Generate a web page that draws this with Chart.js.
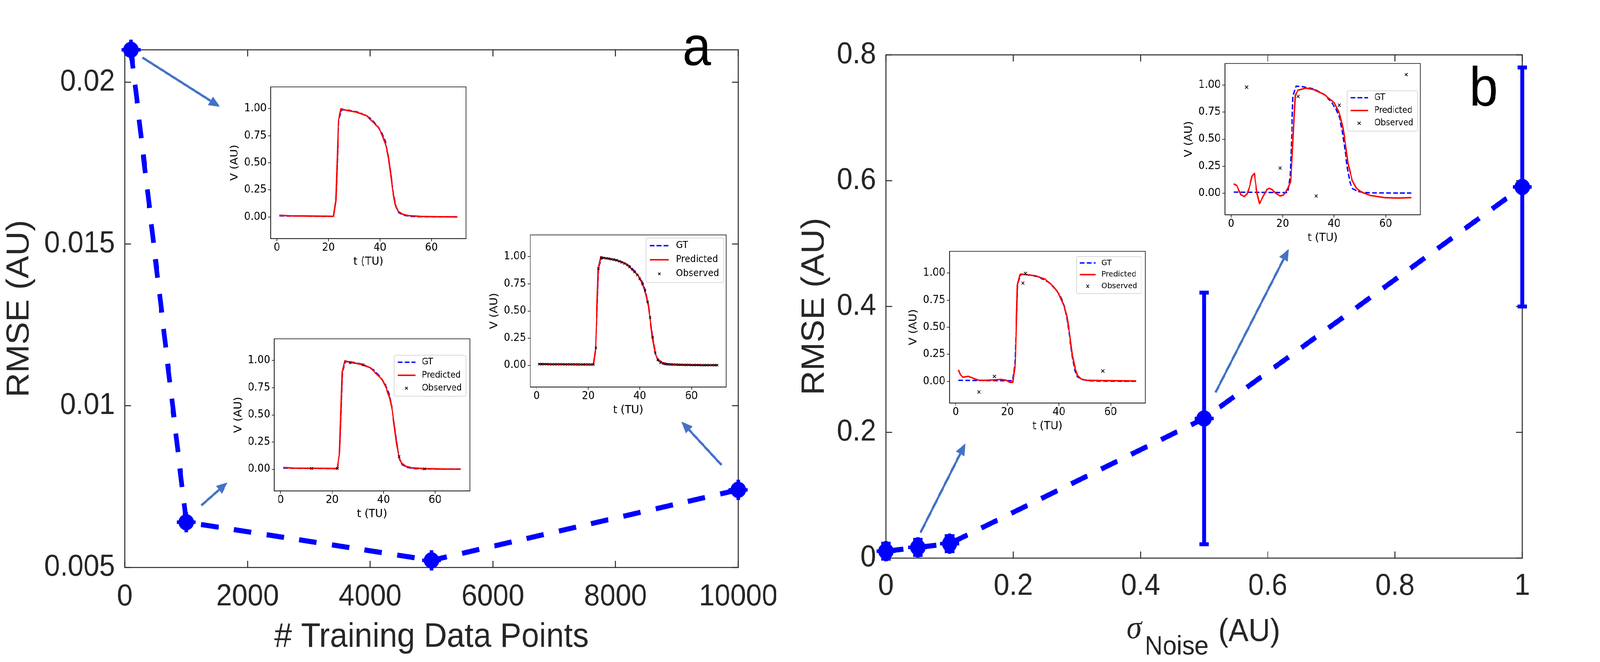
<!DOCTYPE html>
<html>
<head>
<meta charset="utf-8">
<script src="https://cdn.jsdelivr.net/npm/chart.js@4.4.1/dist/chart.umd.min.js"></script>
<style>
  html, body { margin: 0; background: #fff; overflow: hidden; }
  #wrap { position: relative; width: 4363px; height: 1695px; overflow: hidden; }
  #fig { position: absolute; left: 0; top: 0; width: 4363px; height: 1695px; background: #fff; overflow: hidden; transform-origin: 0 0; }
  canvas { position: absolute; }
</style>
</head>
<body>
<div id="wrap">
<div id="fig">
  <canvas id="mainA" width="2150" height="1695" style="left:0px;top:0px"></canvas>
  <canvas id="mainB" width="2213" height="1695" style="left:2150px;top:0px"></canvas>
</div>
</div>
<script>
// ---- panel a : RMSE vs number of training points
const trainPoints = [100, 1000, 5000, 10000];
const rmseTrain = [0.021, 0.0064, 0.00522, 0.0074];
const xTicksA = [0, 2000, 4000, 6000, 8000, 10000];
const xLabelsA = ['0', '2000', '4000', '6000', '8000', '10000'];
const yTicksA = [0.005, 0.01, 0.015, 0.02];
const yLabelsA = ['0.005', '0.01', '0.015', '0.02'];

// ---- panel b : RMSE vs noise level
const noiseLevels = [0, 0.05, 0.1, 0.5, 1];
const rmseNoise = [0.011, 0.017, 0.023, 0.222, 0.59];
const rmseNoiseErr = [0.012, 0.012, 0.012, 0.2, 0.19];
const xTicksB = [0, 0.2, 0.4, 0.6, 0.8, 1];
const xLabelsB = ['0', '0.2', '0.4', '0.6', '0.8', '1'];
const yTicksB = [0, 0.2, 0.4, 0.6, 0.8];
const yLabelsB = ['0', '0.2', '0.4', '0.6', '0.8'];

// ---- insets (t in TU, V in AU)
const insetTTicks = [0, 20, 40, 60];
const insetTLabels = ['0', '20', '40', '60'];
const insetVTicks = [0, 0.25, 0.5, 0.75, 1];
const insetVLabels = ['0.00', '0.25', '0.50', '0.75', '1.00'];

const gtT = [1, 5, 10, 15, 20, 22, 22.9, 23.4, 24, 25.2, 27.8, 32, 36.1, 38.7, 40.8, 42.1, 43.1, 44.1, 45.2, 46.2, 47.2, 49, 51.6, 55, 60, 65, 70];
const gtV = [0.01, 0.009, 0.008, 0.007, 0.006, 0.006, 0.158, 0.478, 0.9, 0.99, 0.985, 0.965, 0.914, 0.85, 0.773, 0.696, 0.58, 0.414, 0.222, 0.094, 0.042, 0.017, 0.006, 0.003, 0.002, 0.001, 0.001];

const predLowT = [1, 5, 10, 15, 20, 22, 22.9, 23.9, 24.9, 27.3, 30.7, 34.8, 37.5, 39.5, 40.9, 42.3, 43.3, 44, 45, 46, 47, 48.7, 51.1, 55.9, 60, 65, 70];
const predLowV = [0.016, 0.01, 0.009, 0.008, 0.007, 0.006, 0.155, 0.894, 0.998, 0.982, 0.968, 0.935, 0.871, 0.824, 0.754, 0.66, 0.554, 0.425, 0.237, 0.108, 0.055, 0.026, 0.012, 0.005, 0.003, 0.001, 0];

const obs1000T = [12, 22, 27, 32, 46, 56];
const obs1000V = [0.007, 0.007, 0.98, 0.961, 0.117, 0.003];

const obs10000T = [1, 2, 3, 4, 5, 6, 7, 8, 9, 10, 11, 12, 13, 14, 15, 16, 17, 18, 19, 20, 21, 22, 23, 24, 25, 26, 27, 28, 29, 30, 31, 32, 33, 34, 35,
  36, 37, 38, 39, 40, 41, 42, 43, 44, 45, 46, 47, 48, 49, 50, 51, 52, 53, 54, 55, 56, 57, 58, 59, 60, 61, 62, 63, 64, 65, 66, 67, 68, 69, 70];
const obs10000V = [0.011, 0.011, 0.011, 0.011, 0.01, 0.01, 0.01, 0.01, 0.01, 0.01, 0.009, 0.009, 0.009, 0.009, 0.009, 0.008, 0.008, 0.008, 0.008, 0.008, 0.008, 0.008,
  0.16, 0.89, 0.99, 0.988, 0.985, 0.981, 0.977, 0.972, 0.966, 0.958, 0.948, 0.936, 0.922, 0.905, 0.884, 0.86, 0.83, 0.796, 0.749, 0.69, 0.584, 0.44, 0.26,
  0.117, 0.051, 0.024, 0.015, 0.011, 0.009, 0.008, 0.007, 0.006, 0.005,
  0.005, 0.004, 0.004, 0.004, 0.003, 0.003, 0.003, 0.003, 0.002, 0.002, 0.002, 0.002, 0.002, 0.002, 0.002];

const predN005T = [1, 1.8, 2.8, 4.9, 6.7, 9, 11.9, 15, 17.6, 19.6, 20.9, 22.1, 22.7, 23.1, 23.9, 24.9, 26.3, 31, 34.6, 37.7, 39.8, 42.1, 43.1, 44.1, 45.2, 46.2, 47.2, 48.5, 50.6, 56.8, 70];
const predN005V = [0.106, 0.061, 0.038, 0.047, 0.029, 0.01, 0.01, 0.014, 0.018, 0.01, -0.009, -0.009, 0.1, 0.163, 0.89, 0.987, 0.987, 0.974, 0.943, 0.879, 0.815, 0.687, 0.598, 0.444, 0.24, 0.125, 0.055, 0.023, 0.01, 0.008, 0.004];
const obsN005T = [9, 15, 26, 27, 57];
const obsN005V = [-0.098, 0.046, 0.907, 0.996, 0.096];

const predN05T = [1, 2.2, 3.8, 5.1, 6.1, 7.1, 8.1, 9, 10, 11, 12.3, 13.9, 14.9, 15.9, 17.5, 19, 20.1, 21.1, 22.1, 23.2, 23.7, 24.5, 24.9, 26, 28.9, 32, 36.1, 40, 42.1, 43.4, 44.4, 45.4, 47, 48.5, 50.6, 54.2, 59.4, 64.6, 70];
const predN05V = [0.087, 0.07, -0.015, -0.031, -0.009, 0.055, 0.158, 0.183, 0.004, -0.096, -0.035, 0.036, 0.045, 0.032, -0.003, -0.026, -0.019, 0.006, 0.049, 0.119, 0.35, 0.735, 0.908, 0.953, 0.972, 0.959, 0.914, 0.837, 0.735, 0.606, 0.453, 0.273, 0.119, 0.049, 0.01, -0.022, -0.041, -0.045, -0.041];
const obsN05T = [6, 19, 26, 33, 42, 68];
const obsN05V = [0.981, 0.232, 0.895, -0.026, 0.814, 1.097];

// arrows from a point to its inset, in data units of the big axes [x0, y0, x1, y1]
const arrowsA = [[288, 0.02076, 1550, 0.01924], [1248, 0.00692, 1673, 0.00763], [9727, 0.00817, 9075, 0.00951]];
const arrowsB = [[0.0542, 0.0404, 0.1248, 0.1822], [0.5179, 0.2633, 0.6331, 0.4914]];

const BLUE = '#0000ff';
const ARROW = '#4472c4';
const AXIS = '#262626';
const SANS = '"Liberation Sans", Arial, Helvetica, sans-serif';
const DJV = '"DejaVu Sans", sans-serif';

// the figure is laid out at 4363x1695; the window can be smaller (4096 wide), so fit it to the viewport
const fig = document.getElementById('fig');
const wrap = document.getElementById('wrap');
const sx = window.innerWidth / 4363, sy = window.innerHeight / 1695;
if (Math.abs(sx - 1) > 0.002 || Math.abs(sy - 1) > 0.002) {
  fig.style.transform = 'scale(' + sx + ',' + sy + ')';
  wrap.style.width = window.innerWidth + 'px';
  wrap.style.height = window.innerHeight + 'px';
}

const pts = (xs, ys) => xs.map((x, i) => ({ x: x, y: ys[i] }));

// box + inward ticks, matlab style
const frameTicks = {
  id: 'frameTicks',
  beforeDatasetsDraw(chart) {
    const { ctx, chartArea: a, scales: { x, y } } = chart;
    const L = 17;
    ctx.save();
    ctx.strokeStyle = AXIS;
    ctx.lineWidth = 2.5;
    ctx.strokeRect(a.left, a.top, a.right - a.left, a.bottom - a.top);
    ctx.beginPath();
    x.ticks.forEach(t => {
      const px = x.getPixelForValue(t.value);
      ctx.moveTo(px, a.bottom); ctx.lineTo(px, a.bottom - L);
      ctx.moveTo(px, a.top); ctx.lineTo(px, a.top + L);
    });
    y.ticks.forEach(t => {
      const py = y.getPixelForValue(t.value);
      ctx.moveTo(a.left, py); ctx.lineTo(a.left + L, py);
      ctx.moveTo(a.right, py); ctx.lineTo(a.right - L, py);
    });
    ctx.stroke();
    ctx.restore();
  }
};

function arrowPlugin(list) {
  return {
    id: 'arrows',
    afterDatasetsDraw(chart) {
      const { ctx, scales: { x, y } } = chart;
      ctx.save();
      ctx.strokeStyle = ARROW;
      ctx.fillStyle = ARROW;
      ctx.lineWidth = 6;
      list.forEach(([x0, y0, x1, y1]) => {
        const ax = x.getPixelForValue(x0), ay = y.getPixelForValue(y0);
        const bx = x.getPixelForValue(x1), by = y.getPixelForValue(y1);
        const ang = Math.atan2(by - ay, bx - ax), hl = 30, hw = 13;
        const ex = bx - hl * Math.cos(ang), ey = by - hl * Math.sin(ang);
        ctx.beginPath(); ctx.moveTo(ax, ay); ctx.lineTo(ex, ey); ctx.stroke();
        ctx.beginPath();
        ctx.moveTo(bx, by);
        ctx.lineTo(ex - hw * Math.sin(ang), ey + hw * Math.cos(ang));
        ctx.lineTo(ex + hw * Math.sin(ang), ey - hw * Math.cos(ang));
        ctx.closePath();
        ctx.fill();
      });
      ctx.restore();
    }
  };
}

function panelLabel(text, cx, base) {
  return {
    id: 'panelLabel',
    afterDraw(chart) {
      const ctx = chart.ctx;
      ctx.save();
      ctx.font = '141px ' + SANS;
      ctx.fillStyle = '#000';
      ctx.textAlign = 'center';
      ctx.textBaseline = 'alphabetic';
      ctx.fillText(text, cx, base);
      ctx.restore();
    }
  };
}

const errorBars = {
  id: 'errorBars',
  beforeDatasetsDraw(chart) {
    const { ctx, scales: { x, y } } = chart;
    ctx.save();
    ctx.strokeStyle = BLUE;
    ctx.lineWidth = 10;
    noiseLevels.forEach((v, i) => {
      const px = x.getPixelForValue(v);
      const top = y.getPixelForValue(rmseNoise[i] + rmseNoiseErr[i]);
      const bot = y.getPixelForValue(rmseNoise[i] - rmseNoiseErr[i]);
      ctx.beginPath();
      ctx.moveTo(px, top); ctx.lineTo(px, bot);
      ctx.moveTo(px - 13, top); ctx.lineTo(px + 13, top);
      ctx.moveTo(px - 13, bot); ctx.lineTo(px + 13, bot);
      ctx.stroke();
    });
    ctx.restore();
  }
};

const noiseTitle = {
  id: 'noiseTitle',
  afterDraw(chart) {
    const { ctx, chartArea: a } = chart;
    const fSig = 'italic 84px "Liberation Serif", serif';
    const fSub = '68px ' + SANS;
    const fMain = '82px ' + SANS;
    ctx.save();
    ctx.fillStyle = AXIS;
    ctx.textAlign = 'left';
    ctx.textBaseline = 'alphabetic';
    ctx.font = fSig; const wS = ctx.measureText('σ').width;
    ctx.font = fSub; const wN = ctx.measureText('Noise').width;
    ctx.font = fMain; const wA = ctx.measureText('(AU)').width;
    let x = (a.left + a.right) / 2 - (wS + 8 + wN + 27 + wA) / 2 - 2;
    ctx.font = fSig; ctx.fillText('σ', x, a.bottom + 205); x += wS + 8;
    ctx.font = fSub; ctx.fillText('Noise', x, a.bottom + 247); x += wN + 27;
    ctx.font = fMain; ctx.fillText('(AU)', x, a.bottom + 212);
    ctx.restore();
  }
};

function mainChart(id, xs, ys, o) {
  const line = pts(xs, ys);
  return new Chart(document.getElementById(id), {
    type: 'line',
    data: {
      datasets: [
        { data: line, borderColor: BLUE, borderWidth: 13, borderDash: [48, 42], borderCapStyle: 'butt',
          pointStyle: 'circle', pointRadius: 21, pointBackgroundColor: BLUE, pointBorderWidth: 0, clip: false },
        { data: line, showLine: false, pointStyle: 'cross', pointRadius: 26, pointBorderColor: BLUE,
          pointBorderWidth: 9, clip: false }
      ]
    },
    options: {
      responsive: false, animation: false, devicePixelRatio: 1, events: [],
      layout: { padding: { top: o.top, right: o.right, left: 0, bottom: 0 } },
      plugins: { legend: { display: false }, tooltip: { enabled: false } },
      scales: {
        x: {
          type: 'linear', min: o.xMin, max: o.xMax,
          afterFit: s => { s.height = o.xh; },
          afterBuildTicks: s => { s.ticks = o.xTicks.map(v => ({ value: v })); },
          grid: { display: false, drawTicks: false }, border: { display: false },
          ticks: { autoSkip: false, maxRotation: 0, padding: o.xPad, color: AXIS, font: { family: SANS, size: 77 },
                   callback: (v, i) => o.xLabels[i] },
          title: { display: !!o.xTitle, text: o.xTitle, color: AXIS, font: { family: SANS, size: 87 },
                   padding: { top: 0, bottom: 11 } }
        },
        y: {
          type: 'linear', min: o.yMin, max: o.yMax,
          afterFit: s => { s.width = o.yw; },
          afterBuildTicks: s => { s.ticks = o.yTicks.map(v => ({ value: v })); },
          grid: { display: false, drawTicks: false }, border: { display: false },
          ticks: { autoSkip: false, padding: 27, color: AXIS, font: { family: SANS, size: 77 },
                   callback: (v, i) => o.yLabels[i] },
          title: { display: true, text: 'RMSE (AU)', color: AXIS, font: { family: SANS, size: 87 },
                   padding: { top: o.yTitlePad, bottom: 0 } }
        }
      }
    },
    plugins: o.plugins
  });
}

mainChart('mainA', trainPoints, rmseTrain, {
  top: 127.6, right: 123, xh: 242, yw: 340.5, xPad: 30,
  xMin: 0, xMax: 10000, yMin: 0.005, yMax: 0.021,
  xTicks: xTicksA, xLabels: xLabelsA, yTicks: yTicksA, yLabels: yLabelsA,
  xTitle: '# Training Data Points', yTitlePad: 2,
  plugins: [frameTicks, arrowPlugin(arrowsA), panelLabel('a', 1900, 167)]
});

mainChart('mainB', noiseLevels, rmseNoise, {
  top: 140.5, right: 212, xh: 266, yw: 266, xPad: 27,
  xMin: 0, xMax: 1, yMin: 0, yMax: 0.8,
  xTicks: xTicksB, xLabels: xLabelsB, yTicks: yTicksB, yLabels: yLabelsB,
  xTitle: '', yTitlePad: 20,
  plugins: [frameTicks, errorBars, arrowPlugin(arrowsB), noiseTitle, panelLabel('b', 1896, 270)]
});

// ---- insets
function roundRectPath(ctx, x, y, w, h, r) {
  ctx.beginPath();
  ctx.moveTo(x + r, y);
  ctx.arcTo(x + w, y, x + w, y + h, r);
  ctx.arcTo(x + w, y + h, x, y + h, r);
  ctx.arcTo(x, y + h, x, y, r);
  ctx.arcTo(x, y, x + w, y, r);
  ctx.closePath();
}

function insetPlugin(leg) {
  return {
    id: 'insetFrame',
    beforeDraw(chart) {
      const { ctx, chartArea: a } = chart;
      ctx.save();
      ctx.fillStyle = '#fff';
      ctx.fillRect(a.left, a.top, a.right - a.left, a.bottom - a.top);
      ctx.restore();
    },
    afterDatasetsDraw(chart) {
      const { ctx, chartArea: a } = chart;
      ctx.save();
      ctx.strokeStyle = '#000';
      ctx.lineWidth = 1.5;
      ctx.strokeRect(a.left, a.top, a.right - a.left, a.bottom - a.top);
      if (leg) {
        const fs = leg.fs, w = 8.67 * fs, h = 4.65 * fs;
        const x0 = a.right - leg.dx - w, y0 = a.top + leg.dy;
        roundRectPath(ctx, x0, y0, w, h, 0.2 * fs);
        ctx.fillStyle = 'rgba(255,255,255,0.8)';
        ctx.fill();
        ctx.strokeStyle = '#cccccc';
        ctx.lineWidth = 1.5;
        ctx.stroke();
        chart.data.datasets.forEach((ds, i) => {
          const cy = y0 + 0.8 * fs + i * 1.47 * fs;
          if (ds.showLine === false) {
            const cx = x0 + 1.48 * fs, hs = ds.pointRadius * 0.707;
            ctx.strokeStyle = ds.pointBorderColor;
            ctx.lineWidth = ds.pointBorderWidth;
            ctx.setLineDash([]);
            ctx.beginPath();
            ctx.moveTo(cx - hs, cy - hs); ctx.lineTo(cx + hs, cy + hs);
            ctx.moveTo(cx - hs, cy + hs); ctx.lineTo(cx + hs, cy - hs);
            ctx.stroke();
          } else {
            ctx.strokeStyle = ds.borderColor;
            ctx.lineWidth = ds.borderWidth;
            ctx.setLineDash(ds.borderDash || []);
            ctx.beginPath();
            ctx.moveTo(x0 + 0.41 * fs, cy); ctx.lineTo(x0 + 2.55 * fs, cy);
            ctx.stroke();
            ctx.setLineDash([]);
          }
          ctx.fillStyle = '#000';
          ctx.font = fs + 'px ' + DJV;
          ctx.textAlign = 'left';
          ctx.textBaseline = 'middle';
          ctx.fillText(ds.label, x0 + 3.33 * fs, cy);
        });
      }
      ctx.restore();
    }
  };
}

const insets = [
  { frame: [738, 214, 1271, 611], pred: [predLowT, predLowV], obs: null, ms: 0, legend: null },
  { frame: [748, 859, 1281, 1257], pred: [predLowT, predLowV], obs: [obs1000T, obs1000V], ms: 4.8, legend: { fs: 22.6, dx: 10, dy: 42 } },
  { frame: [1446, 593, 1980, 991], pred: [predLowT, predLowV], obs: [obs10000T, obs10000V], ms: 4.2, legend: { fs: 24.5, dx: 6, dy: 8 } },
  { frame: [2589, 635, 3123, 1032], pred: [predN005T, predN005V], obs: [obsN005T, obsN005V], ms: 5.6, legend: { fs: 20.3, dx: 11, dy: 13.5 } },
  { frame: [3340, 154, 3873, 550], pred: [predN05T, predN05V], obs: [obsN05T, obsN05V], ms: 5.6, legend: { fs: 22.2, dx: 7, dy: 70 } }
];

insets.forEach(ins => {
  const [l, t, r, b] = ins.frame;
  const cv = document.createElement('canvas');
  cv.width = Math.round(r - l + 132);
  cv.height = Math.round(b - t + 112);
  cv.style.left = (l - 120) + 'px';
  cv.style.top = (t - 12) + 'px';
  fig.appendChild(cv);

  const datasets = [
    { label: 'GT', data: pts(gtT, gtV), borderColor: '#0000ff', borderWidth: 3.5, borderDash: [13, 6],
      pointRadius: 0, order: 3 },
    { label: 'Predicted', data: pts(ins.pred[0], ins.pred[1]), borderColor: '#ff0000', borderWidth: 3.8,
      borderJoinStyle: 'round', pointRadius: 0, order: 2 }
  ];
  if (ins.obs) {
    datasets.push({ label: 'Observed', data: pts(ins.obs[0], ins.obs[1]), showLine: false, pointStyle: 'crossRot',
      pointRadius: ins.ms, pointBorderColor: '#000', pointBackgroundColor: '#000', pointBorderWidth: 1.8, order: 1 });
  }

  const tickFont = { family: DJV, size: 27.5 };
  const titleFont = { family: DJV, size: 29 };
  new Chart(cv, {
    type: 'line',
    data: { datasets: datasets },
    options: {
      responsive: false, animation: false, devicePixelRatio: 1, events: [],
      layout: { padding: { top: 12, right: 12, left: 0, bottom: 0 } },
      plugins: { legend: { display: false }, tooltip: { enabled: false } },
      scales: {
        x: {
          type: 'linear', min: -2.45, max: 73.45,
          afterFit: s => { s.height = 100; },
          afterBuildTicks: s => { s.ticks = insetTTicks.map(v => ({ value: v })); },
          grid: { display: true, drawOnChartArea: false, drawTicks: true, tickLength: 7, color: '#000', lineWidth: 1.5 },
          border: { display: true, color: '#000', width: 1.5 },
          ticks: { autoSkip: false, maxRotation: 0, padding: 0, color: '#000', font: tickFont,
                   callback: (v, i) => insetTLabels[i] },
          title: { display: true, text: 't (TU)', color: '#000', font: titleFont, padding: { top: 0, bottom: 23.6 } }
        },
        y: {
          type: 'linear', min: -0.2, max: 1.2,
          afterFit: s => { s.width = 120; },
          afterBuildTicks: s => { s.ticks = insetVTicks.map(v => ({ value: v })); },
          grid: { display: true, drawOnChartArea: false, drawTicks: true, tickLength: 7, color: '#000', lineWidth: 1.5 },
          border: { display: true, color: '#000', width: 1.5 },
          ticks: { autoSkip: false, padding: 4, color: '#000', font: tickFont,
                   callback: (v, i) => insetVLabels[i] },
          title: { display: true, text: 'V (AU)', color: '#000', font: titleFont, padding: { top: 4.6, bottom: 0 } }
        }
      }
    },
    plugins: [insetPlugin(ins.legend)]
  });
});
</script>
</body>
</html>
